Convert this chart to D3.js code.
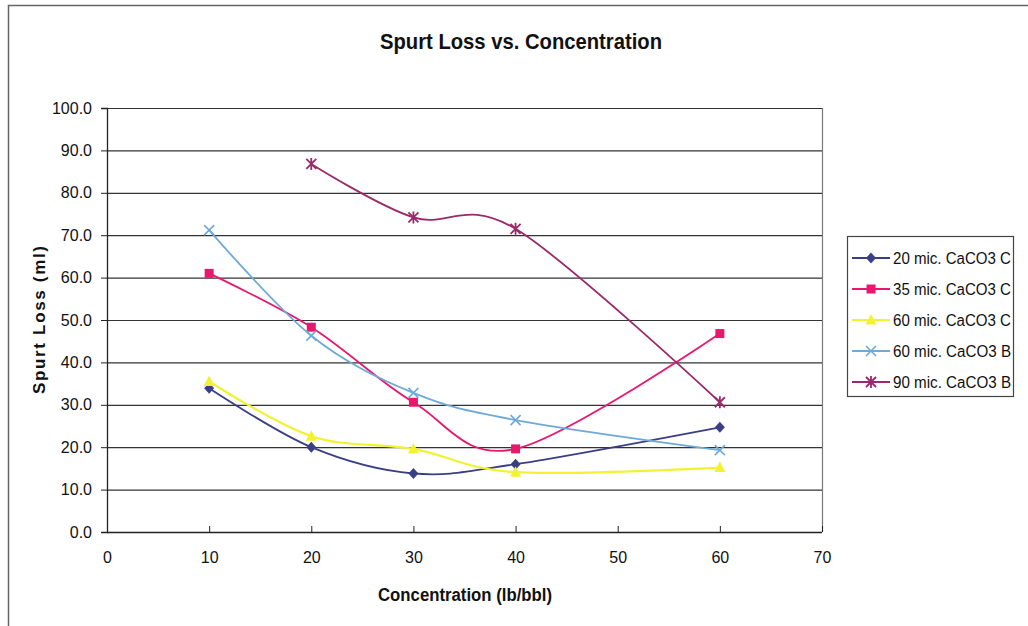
<!DOCTYPE html>
<html><head><meta charset="utf-8">
<script src="https://cdn.jsdelivr.net/npm/d3@7"></script>
<style>body{margin:0;background:#fff;} svg{display:block;} text{font-family:"Liberation Sans",Arial,sans-serif;}</style>
</head><body>
<svg id="c" width="1028" height="626"></svg>
<script>
const xTicks = [0,10,20,30,40,50,60,70];
const yTicks = [0,10,20,30,40,50,60,70,80,90,100];
const concentrations = [10,20,30,40,60];
const s20C = [33.9,20.0,13.8,16.0,24.7];
const s35C = [61.0,48.3,30.6,19.6,46.8];
const s60C = [35.5,22.6,19.6,14.1,15.2];
const s60B = [71.2,46.3,32.8,26.4,19.3];
const s90B = [null,86.8,74.2,71.5,30.6];
const seriesNames = ["20 mic. CaCO3 C","35 mic. CaCO3 C","60 mic. CaCO3 C","60 mic. CaCO3 B","90 mic. CaCO3 B"];
const seriesValues = [s20C,s35C,s60C,s60B,s90B];
const colors = ["#3a3f85","#e8186f","#f2f230","#6eaad8","#9a2a6c"];
const markers = ["diamond","square","triangle","x","star"];

const svg = d3.select("#c");
// outer frame
svg.append("path").attr("d","M8.5,626 V5.5 H1028").attr("fill","none").attr("stroke","#666").attr("stroke-width",1.5);

const L=107,R=822,T=108,B=532;
const x = d3.scaleLinear().domain([0,70]).range([L,R]);
const y = d3.scaleLinear().domain([0,100]).range([B,T]);

// gridlines
svg.append("g").selectAll("line").data(yTicks.filter(d=>d>0)).join("line")
  .attr("x1",L).attr("x2",R).attr("y1",d=>y(d)+0.5).attr("y2",d=>y(d)+0.5)
  .attr("stroke","#333").attr("stroke-width",1.2);
// right border
svg.append("line").attr("x1",R+0.5).attr("x2",R+0.5).attr("y1",T).attr("y2",B).attr("stroke","#777").attr("stroke-width",1.2);

// axes
const ya = svg.append("g").attr("transform",`translate(${L},0)`)
  .call(d3.axisLeft(y).tickValues(yTicks).tickFormat(d3.format(".1f")).tickSize(6).tickPadding(9));
const xa = svg.append("g").attr("transform",`translate(0,${B})`)
  .call(d3.axisBottom(x).tickValues(xTicks).tickSize(-6).tickPadding(20));
[ya,xa].forEach(a=>{a.select(".domain").attr("stroke","#222").attr("stroke-width",1.3);
  a.selectAll(".tick line").attr("stroke","#222");
  a.selectAll("text").attr("font-size",16).attr("fill","#111").attr("font-family",'"Liberation Sans",Arial,sans-serif');});
xa.select(".domain").attr("d",`M${L},0.5H${R}`);

// titles
svg.append("text").attr("x",521).attr("y",49).attr("text-anchor","middle").attr("font-size",22).attr("font-weight","bold").attr("fill","#111")
  .attr("textLength",282).attr("lengthAdjust","spacingAndGlyphs").text("Spurt Loss vs. Concentration");
svg.append("text").attr("x",465).attr("y",601).attr("text-anchor","middle").attr("font-size",18).attr("font-weight","bold").attr("fill","#111")
  .attr("textLength",174).attr("lengthAdjust","spacingAndGlyphs").text("Concentration (lb/bbl)");
svg.append("text").attr("transform","translate(45,320) rotate(-90)").attr("text-anchor","middle").attr("font-size",17).attr("font-weight","bold").attr("fill","#111")
  .attr("textLength",148).attr("lengthAdjust","spacing").text("Spurt Loss (ml)");

const line = d3.line().defined(d=>d[1]!=null).x(d=>x(d[0])).y(d=>y(d[1])).curve(d3.curveCatmullRom.alpha(0));

function marker(g,type,color,cx,cy){
  if(type==="diamond") g.append("path").attr("d",`M${cx},${cy-5.5}L${cx+5},${cy}L${cx},${cy+5.5}L${cx-5},${cy}Z`).attr("fill",color);
  else if(type==="square") g.append("rect").attr("x",cx-4.5).attr("y",cy-4.5).attr("width",9).attr("height",9).attr("fill",color);
  else if(type==="triangle") g.append("path").attr("d",`M${cx},${cy-6}L${cx+5.5},${cy+4.5}L${cx-5.5},${cy+4.5}Z`).attr("fill",color);
  else if(type==="x") g.append("path").attr("d",`M${cx-5},${cy-5}L${cx+5},${cy+5}M${cx+5},${cy-5}L${cx-5},${cy+5}`).attr("stroke",color).attr("stroke-width",1.6);
  else if(type==="star") g.append("path").attr("d",`M${cx-5},${cy-5}L${cx+5},${cy+5}M${cx+5},${cy-5}L${cx-5},${cy+5}M${cx},${cy-6}L${cx},${cy+6}`).attr("stroke",color).attr("stroke-width",1.8);
}

seriesValues.forEach((vals,i)=>{
  const pts = concentrations.map((c,j)=>[c,vals[j]]);
  const g = svg.append("g");
  g.append("path").datum(pts.filter(p=>p[1]!=null)).attr("d",line).attr("fill","none").attr("stroke",colors[i]).attr("stroke-width",i===2?2.2:1.8);
  pts.filter(p=>p[1]!=null).forEach(p=>marker(g,markers[i],colors[i],x(p[0]),y(p[1])));
});

// legend
const lg = svg.append("g");
lg.append("rect").attr("x",847.5).attr("y",236.5).attr("width",166).attr("height",160).attr("fill","#fff").attr("stroke","#444").attr("stroke-width",1.2);
seriesNames.forEach((n,i)=>{
  const ly = 258 + i*31;
  lg.append("line").attr("x1",852).attr("x2",890).attr("y1",ly).attr("y2",ly).attr("stroke",colors[i]).attr("stroke-width",1.8);
  marker(lg,markers[i],colors[i],871,ly);
  lg.append("text").attr("x",893).attr("y",ly+5.5).attr("font-size",16).attr("fill","#111")
    .attr("textLength",118).attr("lengthAdjust","spacingAndGlyphs").text(n);
});
</script>
</body></html>
